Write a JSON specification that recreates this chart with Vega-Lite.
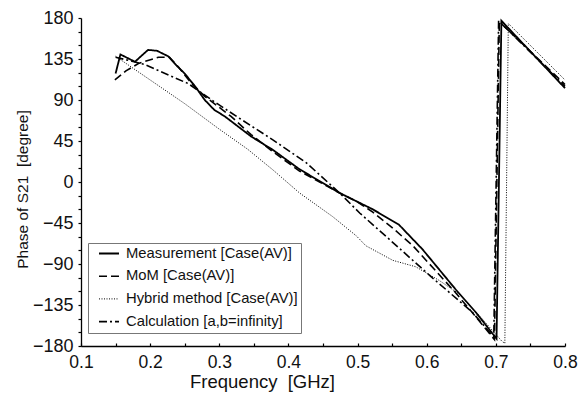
{
  "$schema": "https://vega.github.io/schema/vega-lite/v6.json",
  "width": 484,
  "height": 328,
  "autosize": {"type": "none"},
  "padding": {"left": 81, "top": 18, "right": 16, "bottom": 48},
  "background": "white",
  "config": {
    "view": {"stroke": null},
    "font": "Liberation Sans",
    "axis": {
      "domainColor": "black",
      "domainWidth": 1.3,
      "tickColor": "black",
      "tickWidth": 1.2,
      "labelFont": "Liberation Sans",
      "labelColor": "#111",
      "titleFont": "Liberation Sans",
      "titleColor": "#111",
      "titleFontWeight": "normal",
      "grid": false,
      "labelFlush": false,
      "labelOverlap": false
    }
  },
  "data": {
    "values": [
      {"s": "Measurement [Case(AV)]", "f": 0.150, "p": 119},
      {"s": "Measurement [Case(AV)]", "f": 0.157, "p": 140},
      {"s": "Measurement [Case(AV)]", "f": 0.178, "p": 132},
      {"s": "Measurement [Case(AV)]", "f": 0.197, "p": 145},
      {"s": "Measurement [Case(AV)]", "f": 0.210, "p": 144},
      {"s": "Measurement [Case(AV)]", "f": 0.226, "p": 138},
      {"s": "Measurement [Case(AV)]", "f": 0.238, "p": 128},
      {"s": "Measurement [Case(AV)]", "f": 0.250, "p": 119},
      {"s": "Measurement [Case(AV)]", "f": 0.265, "p": 105},
      {"s": "Measurement [Case(AV)]", "f": 0.279, "p": 90},
      {"s": "Measurement [Case(AV)]", "f": 0.293, "p": 79},
      {"s": "Measurement [Case(AV)]", "f": 0.308, "p": 72},
      {"s": "Measurement [Case(AV)]", "f": 0.327, "p": 61},
      {"s": "Measurement [Case(AV)]", "f": 0.346, "p": 50},
      {"s": "Measurement [Case(AV)]", "f": 0.378, "p": 35},
      {"s": "Measurement [Case(AV)]", "f": 0.416, "p": 14},
      {"s": "Measurement [Case(AV)]", "f": 0.474, "p": -12},
      {"s": "Measurement [Case(AV)]", "f": 0.522, "p": -30},
      {"s": "Measurement [Case(AV)]", "f": 0.560, "p": -47},
      {"s": "Measurement [Case(AV)]", "f": 0.594, "p": -74},
      {"s": "Measurement [Case(AV)]", "f": 0.642, "p": -118},
      {"s": "Measurement [Case(AV)]", "f": 0.671, "p": -143},
      {"s": "Measurement [Case(AV)]", "f": 0.701, "p": -172},
      {"s": "Measurement [Case(AV)]", "f": 0.708, "p": 177},
      {"s": "Measurement [Case(AV)]", "f": 0.800, "p": 103},

      {"s": "MoM [Case(AV)]", "f": 0.149, "p": 112},
      {"s": "MoM [Case(AV)]", "f": 0.165, "p": 122},
      {"s": "MoM [Case(AV)]", "f": 0.183, "p": 130},
      {"s": "MoM [Case(AV)]", "f": 0.212, "p": 137},
      {"s": "MoM [Case(AV)]", "f": 0.228, "p": 137},
      {"s": "MoM [Case(AV)]", "f": 0.240, "p": 127},
      {"s": "MoM [Case(AV)]", "f": 0.260, "p": 108},
      {"s": "MoM [Case(AV)]", "f": 0.279, "p": 94},
      {"s": "MoM [Case(AV)]", "f": 0.298, "p": 83},
      {"s": "MoM [Case(AV)]", "f": 0.317, "p": 72},
      {"s": "MoM [Case(AV)]", "f": 0.346, "p": 52},
      {"s": "MoM [Case(AV)]", "f": 0.378, "p": 33},
      {"s": "MoM [Case(AV)]", "f": 0.416, "p": 12},
      {"s": "MoM [Case(AV)]", "f": 0.450, "p": -2},
      {"s": "MoM [Case(AV)]", "f": 0.474, "p": -12},
      {"s": "MoM [Case(AV)]", "f": 0.500, "p": -22},
      {"s": "MoM [Case(AV)]", "f": 0.522, "p": -33},
      {"s": "MoM [Case(AV)]", "f": 0.550, "p": -50},
      {"s": "MoM [Case(AV)]", "f": 0.580, "p": -70},
      {"s": "MoM [Case(AV)]", "f": 0.610, "p": -95},
      {"s": "MoM [Case(AV)]", "f": 0.640, "p": -120},
      {"s": "MoM [Case(AV)]", "f": 0.670, "p": -147},
      {"s": "MoM [Case(AV)]", "f": 0.698, "p": -173},
      {"s": "MoM [Case(AV)]", "f": 0.705, "p": 176},
      {"s": "MoM [Case(AV)]", "f": 0.800, "p": 107},

      {"s": "Hybrid method [Case(AV)]", "f": 0.150, "p": 138},
      {"s": "Hybrid method [Case(AV)]", "f": 0.200, "p": 112},
      {"s": "Hybrid method [Case(AV)]", "f": 0.250, "p": 86},
      {"s": "Hybrid method [Case(AV)]", "f": 0.300, "p": 58},
      {"s": "Hybrid method [Case(AV)]", "f": 0.341, "p": 36},
      {"s": "Hybrid method [Case(AV)]", "f": 0.378, "p": 13},
      {"s": "Hybrid method [Case(AV)]", "f": 0.416, "p": -12},
      {"s": "Hybrid method [Case(AV)]", "f": 0.464, "p": -38},
      {"s": "Hybrid method [Case(AV)]", "f": 0.498, "p": -59},
      {"s": "Hybrid method [Case(AV)]", "f": 0.512, "p": -70},
      {"s": "Hybrid method [Case(AV)]", "f": 0.551, "p": -86},
      {"s": "Hybrid method [Case(AV)]", "f": 0.584, "p": -93},
      {"s": "Hybrid method [Case(AV)]", "f": 0.618, "p": -108},
      {"s": "Hybrid method [Case(AV)]", "f": 0.647, "p": -123},
      {"s": "Hybrid method [Case(AV)]", "f": 0.680, "p": -150},
      {"s": "Hybrid method [Case(AV)]", "f": 0.709, "p": -175},
      {"s": "Hybrid method [Case(AV)]", "f": 0.713, "p": -177},
      {"s": "Hybrid method [Case(AV)]", "f": 0.718, "p": 174},
      {"s": "Hybrid method [Case(AV)]", "f": 0.800, "p": 112},

      {"s": "Calculation [a,b=infinity]", "f": 0.150, "p": 137},
      {"s": "Calculation [a,b=infinity]", "f": 0.192, "p": 129},
      {"s": "Calculation [a,b=infinity]", "f": 0.255, "p": 108},
      {"s": "Calculation [a,b=infinity]", "f": 0.293, "p": 88},
      {"s": "Calculation [a,b=infinity]", "f": 0.329, "p": 70},
      {"s": "Calculation [a,b=infinity]", "f": 0.378, "p": 46},
      {"s": "Calculation [a,b=infinity]", "f": 0.426, "p": 21},
      {"s": "Calculation [a,b=infinity]", "f": 0.474, "p": -12},
      {"s": "Calculation [a,b=infinity]", "f": 0.503, "p": -34},
      {"s": "Calculation [a,b=infinity]", "f": 0.546, "p": -63},
      {"s": "Calculation [a,b=infinity]", "f": 0.605, "p": -103},
      {"s": "Calculation [a,b=infinity]", "f": 0.666, "p": -143},
      {"s": "Calculation [a,b=infinity]", "f": 0.697, "p": -170},
      {"s": "Calculation [a,b=infinity]", "f": 0.704, "p": 177},
      {"s": "Calculation [a,b=infinity]", "f": 0.800, "p": 105}
    ]
  },
  "mark": {"type": "line", "color": "black", "strokeCap": "butt"},
  "encoding": {
    "x": {
      "field": "f",
      "type": "quantitative",
      "scale": {"domain": [0.1, 0.8], "nice": false, "zero": false},
      "axis": {
        "title": "Frequency \u00a0[GHz]",
        "values": [0.1, 0.15, 0.2, 0.25, 0.3, 0.35, 0.4, 0.45, 0.5, 0.55, 0.6, 0.65, 0.7, 0.75, 0.8],
        "labelExpr": "round(datum.value * 100) % 10 == 0 ? format(datum.value, '.1f') : ''",
        "tickSize": -3,
        "labelPadding": 10,
        "labelBaseline": "top",
        "labelFontSize": 17.5,
        "titleFontSize": 18.5,
        "titleX": 181,
        "titleY": 41,
        "titleAlign": "center",
        "titleBaseline": "alphabetic"
      }
    },
    "y": {
      "field": "p",
      "type": "quantitative",
      "scale": {"domain": [-180, 180], "nice": false, "zero": false},
      "axis": {
        "title": "Phase of S21 \u00a0[degree]",
        "values": [-180, -165, -150, -135, -120, -105, -90, -75, -60, -45, -30, -15, 0, 15, 30, 45, 60, 75, 90, 105, 120, 135, 150, 165, 180],
        "labelExpr": "datum.value % 45 == 0 ? format(datum.value, 'd') : ''",
        "tickSize": 3,
        "labelPadding": 5,
        "labelFontSize": 18,
        "titleFontSize": 15.5,
        "titleAngle": -90,
        "titleX": -59,
        "titleY": 171,
        "titleAlign": "center",
        "titleBaseline": "middle"
      }
    },
    "strokeDash": {
      "field": "s",
      "type": "nominal",
      "scale": {
        "domain": ["Measurement [Case(AV)]", "MoM [Case(AV)]", "Hybrid method [Case(AV)]", "Calculation [a,b=infinity]"],
        "range": [[1, 0], [8, 4], [1, 1.5], [8, 3, 2, 3]]
      },
      "legend": {
        "title": null,
        "orient": "none",
        "legendX": 7,
        "legendY": 225,
        "padding": 3,
        "strokeColor": "#777",
        "fillColor": "white",
        "symbolType": "stroke",
        "symbolSize": 400,
        "symbolStrokeWidth": 1.5,
        "symbolStrokeColor": "black",
        "symbolOffset": 7,
        "clipHeight": 15,
        "rowPadding": 6.7,
        "labelOffset": 6,
        "labelFont": "Liberation Sans",
        "labelFontSize": 14.8,
        "labelColor": "#111",
        "labelLimit": 400
      }
    },
    "strokeWidth": {
      "field": "s",
      "type": "nominal",
      "scale": {
        "type": "ordinal",
        "domain": ["Measurement [Case(AV)]", "MoM [Case(AV)]", "Hybrid method [Case(AV)]", "Calculation [a,b=infinity]"],
        "range": [1.8, 1.6, 1, 1.6]
      },
      "legend": null
    }
  }
}
